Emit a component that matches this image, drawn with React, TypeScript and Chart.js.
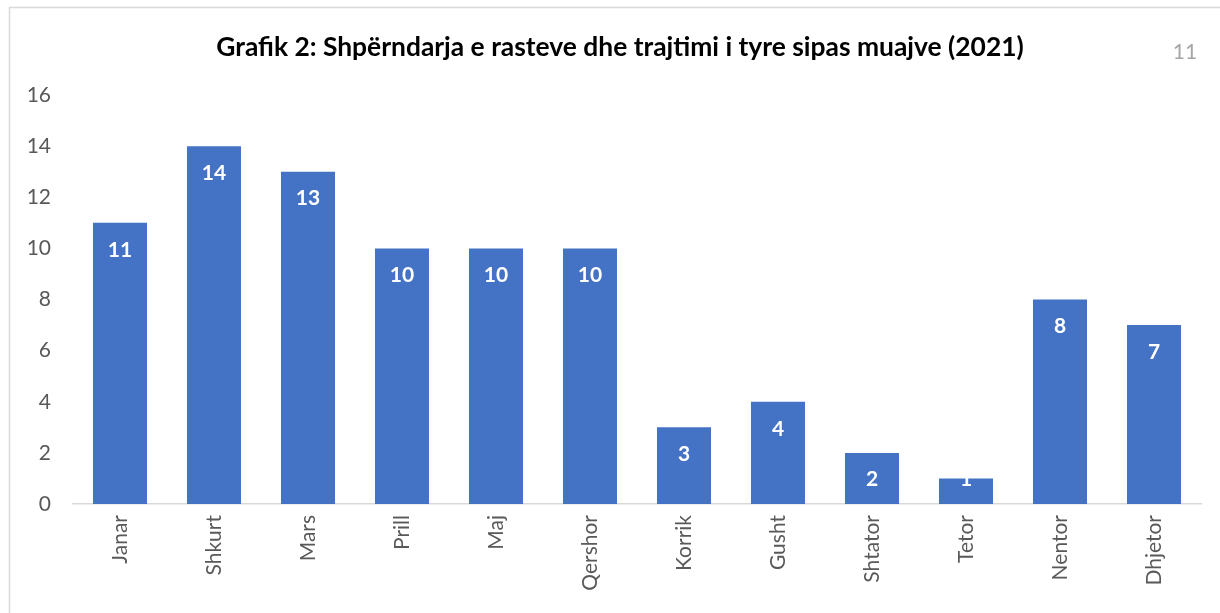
import React, { useEffect, useRef } from "react";
import { Chart, registerables } from "chart.js";

Chart.register(...registerables);

const months = ["Janar", "Shkurt", "Mars", "Prill", "Maj", "Qershor", "Korrik", "Gusht", "Shtator", "Tetor", "Nentor", "Dhjetor"];
const cases = [11, 14, 13, 10, 10, 10, 3, 4, 2, 1, 8, 7];
const titleText = "Grafik 2: Shpërndarja e rasteve dhe trajtimi i tyre sipas muajve (2021)";
const pageNumber = "11";

const FONT = "Lato, 'Open Sans', sans-serif";

export default function App() {
  const ref = useRef<HTMLCanvasElement>(null);
  useEffect(() => {
    const canvas = ref.current!;
    const overlay = {
      id: "overlay",
      afterDatasetsDraw(chart: any) {
        const ctx = chart.ctx;
        const meta = chart.getDatasetMeta(0);
        const yScale = chart.scales.y;
        const base = yScale.getPixelForValue(0);
        ctx.save();
        ctx.fillStyle = "#ffffff";
        ctx.font = `bold 21px ${FONT}`;
        ctx.textAlign = "center";
        ctx.textBaseline = "middle";
        meta.data.forEach((bar: any, i: number) => {
          const y = Math.min(bar.y + 27, base - 25);
          ctx.fillText(String(cases[i]), bar.x, y);
        });
        ctx.restore();
      },
      afterDraw(chart: any) {
        const ctx = chart.ctx;
        ctx.save();
        ctx.strokeStyle = "#d9d9d9";
        ctx.lineWidth = 1.5;
        ctx.beginPath();
        ctx.moveTo(9.5, 700);
        ctx.lineTo(9.5, 7.5);
        ctx.lineTo(1300, 7.5);
        ctx.stroke();
        ctx.fillStyle = "#000000";
        let size = 20;
        ctx.font = `bold ${size}px ${FONT}`;
        const w = ctx.measureText(titleText).width;
        size = (size * 808) / w;
        ctx.font = `bold ${size}px ${FONT}`;
        ctx.textAlign = "center";
        ctx.textBaseline = "middle";
        ctx.fillText(titleText, 620, 47);
        ctx.fillStyle = "#a6a6a6";
        ctx.font = `21px ${FONT}`;
        ctx.fillText(pageNumber, 1185, 52);
        ctx.restore();
      },
    };
    const chart = new Chart(canvas, {
      type: "bar",
      data: {
        labels: months,
        datasets: [
          {
            data: cases,
            backgroundColor: "#4472C4",
            borderWidth: 0,
            barPercentage: 0.575,
            categoryPercentage: 1,
          },
        ],
      },
      options: {
        animation: false,
        responsive: false,
        maintainAspectRatio: false,
        layout: { padding: { top: 95, right: 19, left: 0, bottom: 0 } },
        plugins: { legend: { display: false }, title: { display: false }, tooltip: { enabled: false } },
        scales: {
          x: {
            grid: { display: false, drawTicks: false },
            border: { display: true, color: "#d9d9d9", width: 1.5 },
            ticks: {
              color: "#595959",
              font: { family: FONT, size: 21 },
              minRotation: 90,
              maxRotation: 90,
              padding: 11,
              autoSkip: false,
            },
            afterFit(scale: any) {
              scale.height = 613 - 504;
            },
          },
          y: {
            min: 0,
            max: 16,
            grid: { display: false, drawTicks: false },
            border: { display: false },
            ticks: {
              stepSize: 2,
              color: "#595959",
              font: { family: FONT, size: 21 },
              padding: 22,
            },
            afterFit(scale: any) {
              scale.width = 73;
            },
          },
        },
      },
      plugins: [overlay],
    });
    return () => chart.destroy();
  }, []);
  return (
    <div style={{ position: "fixed", left: 0, top: 0, width: 1220, height: 613, background: "#fff" }}>
      <canvas ref={ref} width={1220} height={613} style={{ width: 1220, height: 613, display: "block" }} />
    </div>
  );
}
